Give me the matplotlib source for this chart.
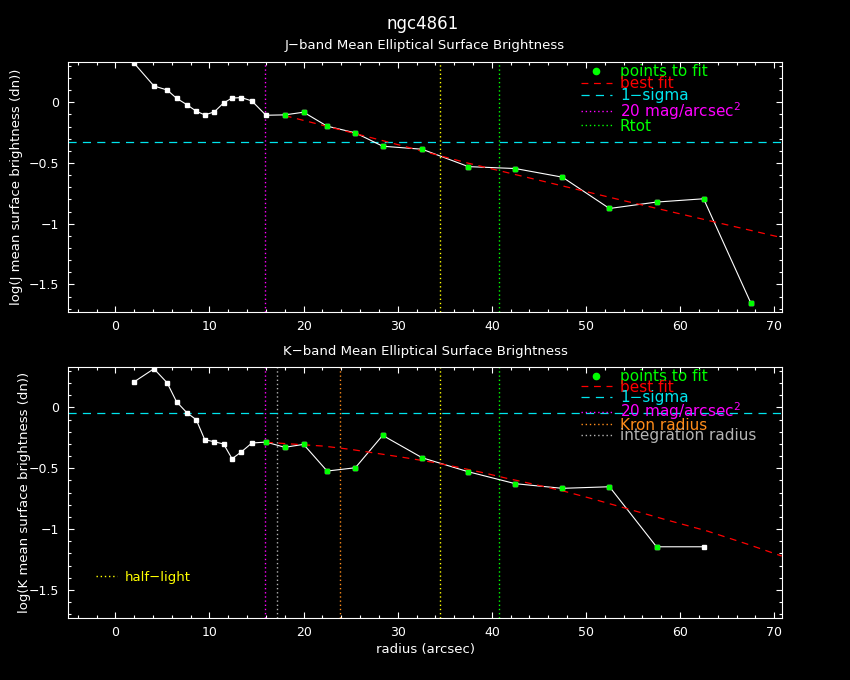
import matplotlib
matplotlib.use('Agg')
import matplotlib.pyplot as plt
from matplotlib.lines import Line2D
from matplotlib.ticker import MultipleLocator, FuncFormatter

# ---------------- data ----------------
galaxy = "ngc4861"
radius = [2.0, 4.1, 5.5, 6.5, 7.6, 8.6, 9.5, 10.5, 11.5, 12.4, 13.4, 14.5, 16.0,
          18.0, 20.0, 22.5, 25.5, 28.4, 32.6, 37.5, 42.5, 47.5, 52.5, 57.5, 62.5, 67.5]

j_logsb = [0.321, 0.134, 0.101, 0.033, -0.020, -0.074, -0.104, -0.080, -0.006, 0.035,
           0.038, 0.011, -0.107, -0.104, -0.082, -0.197, -0.252, -0.362, -0.387,
           -0.530, -0.546, -0.617, -0.875, -0.822, -0.795, -1.650]
j_fit_idx = list(range(13, 26))
j_bestfit_r = [18.0, 28.1, 37.5, 53.6, 70.8]
j_bestfit_y = [-0.110, -0.310, -0.502, -0.803, -1.115]
j_sigma = -0.329
j_mu20 = 15.9
j_halflight = 34.5
j_rtot = 40.8

k_logsb = [0.210, 0.317, 0.202, 0.046, -0.044, -0.102, -0.266, -0.282, -0.301, -0.422,
           -0.365, -0.293, -0.285, -0.328, -0.304, -0.523, -0.496, -0.230, -0.414,
           -0.529, -0.627, -0.665, -0.652, -1.145, -1.145]
k_fit_idx = list(range(12, 24))
k_bestfit_r = [16.0, 22.1, 25.0, 27.8, 30.6, 33.6, 36.3, 39.1, 41.6, 43.0, 47.6, 50.4,
               54.5, 58.6, 62.9, 67.1, 70.8]
k_bestfit_y = [-0.287, -0.318, -0.345, -0.378, -0.411, -0.449, -0.490, -0.537, -0.583,
               -0.606, -0.687, -0.745, -0.835, -0.925, -1.016, -1.122, -1.221]
k_sigma = -0.049
k_mu20 = 15.9
k_integration = 17.2
k_kron = 23.9
k_halflight = 34.5
k_rtot = 40.8

# ---------------- style ----------------
GREEN = '#00ff00'
RED = '#ff0000'
CYAN = '#00e5ee'
MAGENTA = '#ff00ff'
YELLOW = '#ffff00'
ORANGE = '#ff8c1a'
GRAY = '#b4b4b4'
WHITE = '#ffffff'

DOT = (0, (1, 2.0))
DASH_FIT = (0, (5.5, 4.5))
DASH_SIG = (0, (6.5, 5.0))

plt.rcParams['font.family'] = ['DejaVu Sans']

fig = plt.figure(figsize=(8.5, 6.8), dpi=100, facecolor='black')
W, H = 850.0, 680.0
ax_left, ax_right = 68.3, 781.7
ax1 = fig.add_axes([ax_left / W, 1 - 312.3 / H, (ax_right - ax_left) / W, (312.3 - 61.7) / H])
ax2 = fig.add_axes([ax_left / W, 1 - 618.0 / H, (ax_right - ax_left) / W, (618.0 - 366.7) / H])


def fmt(v, pos):
    s = '%g' % v
    return s.replace('-', '\u2212')


def style_axes(ax):
    ax.set_facecolor('black')
    ax.set_xlim(-5, 70.8)
    ax.set_ylim(-1.73, 0.334)
    for sp in ax.spines.values():
        sp.set_color(WHITE)
        sp.set_linewidth(0.8)
    ax.xaxis.set_major_locator(MultipleLocator(10))
    ax.xaxis.set_minor_locator(MultipleLocator(2))
    ax.yaxis.set_major_locator(MultipleLocator(0.5))
    ax.yaxis.set_minor_locator(MultipleLocator(0.1))
    ax.yaxis.set_major_formatter(FuncFormatter(fmt))
    ax.tick_params(which='both', direction='in', top=True, right=True,
                   colors=WHITE, labelcolor=WHITE, labelsize=9, width=0.8)
    ax.tick_params(which='major', length=4.5)
    ax.tick_params(which='minor', length=2.4)
    ax.tick_params(axis='x', pad=5.5)
    ax.tick_params(axis='y', pad=6.5)


def draw_profile(ax, logsb, fit_idx, fit_r, fit_y, sigma, vlines):
    for x, c in vlines:
        ax.axvline(x, color=c, ls=DOT, lw=1.0)
    ax.axhline(sigma, color=CYAN, ls=DASH_SIG, lw=0.9)
    r = radius[:len(logsb)]
    ax.plot(r, logsb, color=WHITE, lw=0.8, marker='s', ms=3.0, mfc=WHITE, mec=WHITE, zorder=3)
    ax.plot(fit_r, fit_y, color=RED, ls=DASH_FIT, lw=0.9, zorder=4)
    ax.plot([r[i] for i in fit_idx], [logsb[i] for i in fit_idx], ls='none',
            marker='s', ms=3.4, mfc=GREEN, mec=GREEN, zorder=5)


LEG_X = (581 - ax_left) / (ax_right - ax_left)

# ---------------- top panel (J) ----------------
style_axes(ax1)
draw_profile(ax1, j_logsb, j_fit_idx, j_bestfit_r, j_bestfit_y, j_sigma,
             [(j_mu20, MAGENTA), (j_halflight, YELLOW), (j_rtot, GREEN)])
ax1.text(0.5, 1 + 16.7 / 250.6, 'J\u2212band Mean Elliptical Surface Brightness',
         transform=ax1.transAxes, ha='center', va='center', color=WHITE, fontsize=9.5)
ax1.set_ylabel('log(J mean surface brightness (dn))', color=WHITE, fontsize=9.5)
ax1.yaxis.label.set_va('center')
ax1.yaxis.set_label_coords((17 - ax_left) / (ax_right - ax_left), 0.5)

h1 = [Line2D([], [], ls='none', marker='o', ms=4.5, color=GREEN),
      Line2D([], [], color=RED, ls=DASH_FIT, lw=0.9),
      Line2D([], [], color=CYAN, ls=DASH_SIG, lw=0.9),
      Line2D([], [], color=MAGENTA, ls=DOT, lw=1.0),
      Line2D([], [], color=GREEN, ls=DOT, lw=1.0)]
l1 = ['points to fit', 'best fit', '1\u2212sigma', '20 mag/arcsec$^2$', 'Rtot']
ax1.legend(h1, l1, loc='upper left', bbox_to_anchor=(LEG_X, 0.99),
           frameon=False, fontsize=11, labelspacing=-0.2, handlelength=2.0,
           handletextpad=0.55, borderpad=0, borderaxespad=0,
           labelcolor=[GREEN, RED, CYAN, MAGENTA, GREEN])

# ---------------- bottom panel (K) ----------------
style_axes(ax2)
draw_profile(ax2, k_logsb, k_fit_idx, k_bestfit_r, k_bestfit_y, k_sigma,
             [(k_mu20, MAGENTA), (k_integration, GRAY), (k_kron, ORANGE),
              (k_halflight, YELLOW), (k_rtot, GREEN)])
ax2.text(0.5, 1 + 14.7 / 251.3, 'K\u2212band Mean Elliptical Surface Brightness',
         transform=ax2.transAxes, ha='center', va='center', color=WHITE, fontsize=9.5)
ax2.set_ylabel('log(K mean surface brightness (dn))', color=WHITE, fontsize=9.5)
ax2.yaxis.label.set_va('center')
ax2.yaxis.set_label_coords((25 - ax_left) / (ax_right - ax_left), 0.5)
ax2.set_xlabel('radius (arcsec)', color=WHITE, fontsize=9.5)
ax2.xaxis.label.set_va('center')
ax2.xaxis.set_label_coords(0.5, -31.0 / 251.3)

h2 = [Line2D([], [], ls='none', marker='o', ms=4.5, color=GREEN),
      Line2D([], [], color=RED, ls=DASH_FIT, lw=0.9),
      Line2D([], [], color=CYAN, ls=DASH_SIG, lw=0.9),
      Line2D([], [], color=MAGENTA, ls=DOT, lw=1.0),
      Line2D([], [], color=ORANGE, ls=DOT, lw=1.0),
      Line2D([], [], color=GRAY, ls=DOT, lw=1.0)]
l2 = ['points to fit', 'best fit', '1\u2212sigma', '20 mag/arcsec$^2$', 'Kron radius',
      'integration radius']
leg2 = ax2.legend(h2, l2, loc='upper left', bbox_to_anchor=(LEG_X, 0.99),
                  frameon=False, fontsize=11, labelspacing=-0.3, handlelength=2.0,
                  handletextpad=0.55, borderpad=0, borderaxespad=0,
                  labelcolor=[GREEN, RED, CYAN, MAGENTA, ORANGE, GRAY])
ax2.add_artist(leg2)
ax2.legend([Line2D([], [], color=YELLOW, ls=DOT, lw=1.0)], ['half\u2212light'],
           loc='center left',
           bbox_to_anchor=((96 - ax_left) / (ax_right - ax_left), (618 - 577) / 251.3),
           frameon=False, fontsize=9.5, handlelength=1.6, handletextpad=0.6,
           borderpad=0, borderaxespad=0, labelcolor=[YELLOW])

fig.text(423 / W, 1 - 24 / H, galaxy, ha='center', va='center', color=WHITE, fontsize=12)

fig.savefig('out.png', dpi=100, facecolor='black')
